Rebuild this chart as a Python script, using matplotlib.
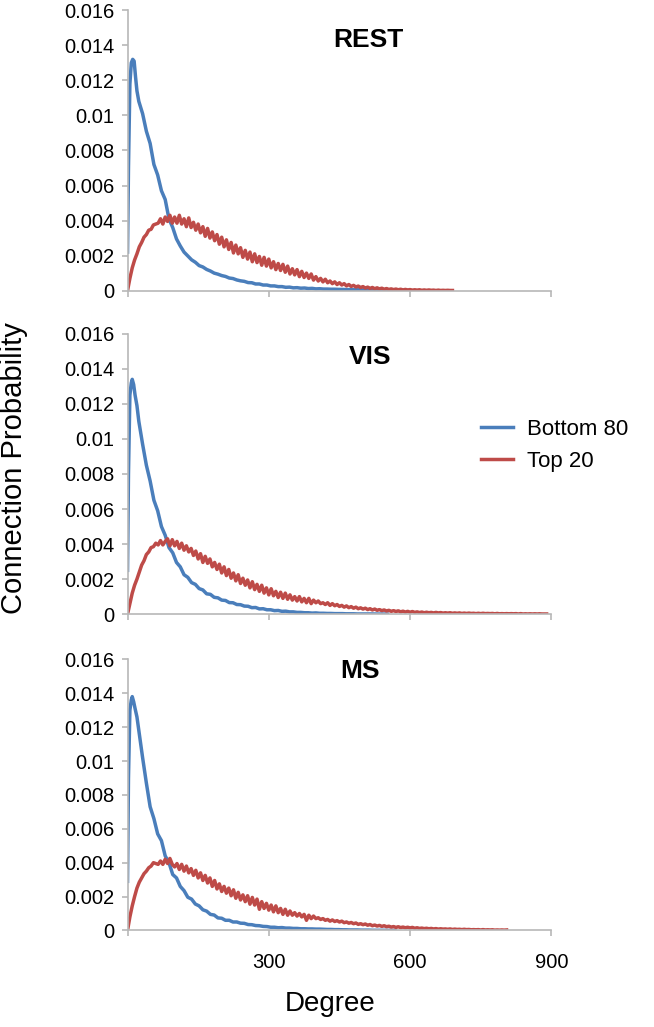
import numpy as np
import matplotlib.pyplot as plt

plt.rcParams['font.family'] = ['Liberation Sans', 'DejaVu Sans']

BLUE = '#4a7ebb'
RED = '#be4b48'
GRAY = '#b8b8b8'

# values are in units of 1e-4 (connection probability)
# Bottom 80: first degrees listed apart, then every 8 degrees from 24
REST_B80_HEAD_DEG = [0, 2, 5, 8, 11, 14, 17, 20]
REST_B80_HEAD = [22, 70, 118, 130, 132, 131, 122, 114]
REST_B80 = [108, 101, 91, 84, 72, 66, 57, 52, 41, 36, 29.5, 25.5, 22, 19.8,
            17.6, 16.2, 14.3, 13.5, 12.1, 11.2, 10.0, 9.4, 8.6, 8.1, 7.2,
            6.9, 6.1, 5.6, 5.3, 4.6, 4.5, 3.8, 3.8, 3.2, 3.2, 2.7, 2.7, 2.3,
            2.3, 1.9, 2.0, 1.6, 1.7, 1.4, 1.5, 1.2, 1.3, 1.0, 1.1, 0.9, 0.9,
            0.8, 0.8, 0.7, 0.7, 0.6, 0.6, 0.5, 0.5, 0.5, 0.4, 0.4, 0.4, 0.3,
            0.3, 0.3, 0.2, 0.2, 0.2, 0.1, 0.1, 0.1]
# Top 20: every 5 degrees from 0
REST_T20 = [0, 7, 13, 17.5, 21, 25, 27.5, 30.5, 32, 34.5,
            35, 37.5, 38, 38.5, 41, 38, 42, 39.5, 43, 38.5,
            42, 38.5, 43, 38, 41, 36.5, 41.5, 36, 39, 34.5,
            38, 33, 36.5, 31, 35.5, 30, 33.5, 28.5, 32, 26.5,
            30.5, 25, 29, 23.5, 27.5, 21.5, 26, 21, 24.5, 19,
            23, 18, 22, 16.5, 21, 16, 19.5, 14.5, 19, 14,
            18, 13, 16.5, 12, 15.5, 11.5, 15, 10.5, 14, 9.5,
            12.5, 9, 12, 8, 11, 7.5, 10, 7, 9.5, 6,
            8, 5.5, 7, 5, 6.5, 4.5, 5.5, 4, 5, 3.5,
            4.5, 3.2, 4, 2.7, 3.5, 2.4, 3, 2.1, 2.6, 1.8,
            2.3, 1.5, 2, 1.3, 1.8, 1.1, 1.6, 1, 1.4, 0.8,
            1.2, 0.7, 1, 0.6, 0.9, 0.5, 0.8, 0.4, 0.7, 0.4,
            0.6, 0.3, 0.5, 0.3, 0.5, 0.2, 0.4, 0.2, 0.4, 0.2,
            0.3, 0.1, 0.3, 0.1, 0.2, 0.1, 0.2, 0.1, 0.1]

VIS_B80_HEAD_DEG = [0, 2, 5, 8, 10, 13, 16, 20]
VIS_B80_HEAD = [25, 80, 125, 132, 134, 131, 125, 119]
VIS_B80 = [110, 97, 85, 76, 65, 59, 50, 45, 38, 35, 29.5, 27, 22.5, 21,
           18, 17, 14.6, 13.8, 11.6, 11.3, 9.6, 9.3, 8.0, 7.8, 6.6, 6.5,
           5.5, 5.4, 4.6, 4.5, 3.7, 3.8, 3.0, 3.1, 2.5, 2.5, 2.0, 2.1, 1.6,
           1.7, 1.3, 1.3, 1.0, 1.0, 0.8, 0.8, 0.6, 0.7, 0.5, 0.5, 0.4, 0.4,
           0.3, 0.3, 0.3, 0.2, 0.2, 0.2, 0.1, 0.1, 0.1, 0.1, 0.1, 0.05,
           0.05, 0.05, 0.0]
VIS_T20 = [0, 6, 12, 16.5, 20, 24, 28, 30.5, 34, 35.5,
           38, 38.5, 40.5, 39.5, 42, 39.5, 41.5, 43, 39, 42.5,
           39, 41.5, 37.5, 40.5, 36.5, 39, 35.5, 37.5, 33.5, 36,
           31.5, 34.5, 29.5, 33, 29, 31.5, 27, 29.5, 25.5, 28.5,
           23.5, 27, 22, 25.5, 20.5, 23.5, 19, 22.5, 17.5, 20.5,
           16.5, 19.5, 15, 18.5, 14, 17, 13, 16.5, 12, 15,
           11, 14.5, 10.5, 13, 9.5, 12.5, 9, 12, 8.5, 11,
           8, 10, 7.5, 10, 7, 9, 6.5, 9, 6, 8,
           6.5, 7.5, 6, 6.5, 5.5, 6.5, 5, 6, 4.8, 5.5,
           4.4, 5, 4, 4.7, 3.7, 4.3, 3.4, 4, 3.1, 3.6,
           2.9, 3.4, 2.6, 3.1, 2.4, 2.9, 2.2, 2.6, 2, 2.4,
           1.8, 2.2, 1.6, 2, 1.5, 1.9, 1.3, 1.7, 1.2, 1.6,
           1.1, 1.5, 1, 1.3, 0.9, 1.2, 0.8, 1.1, 0.8, 1,
           0.7, 1, 0.7, 0.9, 0.6, 0.8, 0.6, 0.8, 0.5, 0.7,
           0.5, 0.7, 0.4, 0.6, 0.4, 0.6, 0.4, 0.5, 0.3, 0.5,
           0.3, 0.5, 0.3, 0.4, 0.3, 0.4, 0.2, 0.4, 0.2, 0.3,
           0.2, 0.3, 0.2, 0.3, 0.2, 0.3, 0.1, 0.3, 0.1, 0.2,
           0.1, 0.2, 0.1, 0.2, 0.1, 0.2, 0.1, 0.1, 0.1]

MS_B80_HEAD_DEG = [0, 2, 5, 8, 10, 13, 16, 20]
MS_B80_HEAD = [29, 90, 130, 136, 138, 135, 131, 126]
MS_B80 = [118, 102, 87, 73, 66, 57, 53, 44, 40, 33, 31, 26, 23.5, 19.6,
          18.5, 15.6, 14.5, 12.2, 11.4, 9.5, 9.1, 7.4, 7.2, 6.0, 6.0, 5.0,
          5.0, 4.3, 4.2, 3.5, 3.4, 2.9, 2.8, 2.4, 2.3, 1.9, 1.9, 1.6, 1.7,
          1.4, 1.4, 1.2, 1.2, 1.0, 1.0, 0.9, 0.9, 0.8, 0.8, 0.7, 0.6, 0.6,
          0.5, 0.5, 0.4, 0.4, 0.3, 0.3, 0.3, 0.2, 0.2, 0.2, 0.1, 0.1, 0.1,
          0.1, 0.05, 0.05, 0.0]
MS_T20 = [0, 8, 14.5, 20, 25, 28.5, 31, 33.5, 35, 37,
          38, 40, 39.5, 39, 41, 39, 42, 39.5, 42.5, 39,
          37.5, 39.5, 36, 39, 35, 38, 34, 36.5, 32.5, 35.5,
          31, 34, 29.5, 32.5, 28, 31, 26, 29.5, 24.5, 27.5,
          23, 26, 22, 25, 20.5, 24, 19, 22.5, 18, 21,
          17, 20.5, 15.5, 19.5, 15, 18.5, 12.5, 17, 13, 16,
          12, 15, 11, 14.5, 10.5, 13, 9.5, 12.5, 9, 11.5,
          9, 10.5, 8.5, 10, 8, 9.5, 6, 9, 7, 8.5,
          7, 7.5, 6.5, 7, 6, 6.5, 5.5, 6.2, 5.3, 5.8,
          5, 5.5, 4.6, 5, 4.3, 4.7, 4, 4.4, 3.6, 4,
          3.4, 3.8, 3.1, 3.5, 2.8, 3.2, 2.6, 3, 2.4, 2.8,
          2.2, 2.5, 2, 2.3, 1.8, 2.2, 1.7, 2, 1.6, 1.9,
          1.5, 1.8, 1.3, 1.6, 1.2, 1.4, 1.1, 1.3, 1, 1.2,
          0.9, 1.1, 0.8, 1, 0.8, 0.9, 0.7, 0.9, 0.6, 0.8,
          0.6, 0.7, 0.5, 0.7, 0.5, 0.6, 0.4, 0.5, 0.4, 0.5,
          0.3, 0.5, 0.3, 0.4, 0.3, 0.4, 0.2, 0.3, 0.2, 0.3,
          0.2, 0.3]

TITLES = ['REST', 'VIS', 'MS']
LABELS = ['Bottom 80', 'Top 20']
YTICKLABELS = ['0', '0.002', '0.004', '0.006', '0.008', '0.01',
               '0.012', '0.014', '0.016']

panels = [
    (REST_B80_HEAD_DEG, REST_B80_HEAD, REST_B80, REST_T20),
    (VIS_B80_HEAD_DEG, VIS_B80_HEAD, VIS_B80, VIS_T20),
    (MS_B80_HEAD_DEG, MS_B80_HEAD, MS_B80, MS_T20),
]

fig = plt.figure(figsize=(6.54, 10.27), dpi=100)
# [left, bottom, width, height] in figure fraction
boxes = [[0.195, 0.717, 0.648, 0.273],
         [0.195, 0.402, 0.648, 0.273],
         [0.195, 0.094, 0.648, 0.264]]
title_pos = [(0.568, 0.0143), (0.573, 0.0147), (0.548, 0.0153)]

lines = []
for box, title, tpos, (hdeg, hval, b80, t20) in zip(boxes, TITLES,
                                                    title_pos, panels):
    ax = fig.add_axes(box)
    deg_b = np.concatenate([hdeg, 24 + 8 * np.arange(len(b80))])
    val_b = np.concatenate([hval, b80]) * 1e-4
    deg_t = 5 * np.arange(len(t20))
    val_t = np.array(t20) * 1e-4
    lb, = ax.plot(deg_b, val_b, color=BLUE, lw=2.5, label=LABELS[0])
    lt, = ax.plot(deg_t, val_t, color=RED, lw=2.5, label=LABELS[1])
    lines = [lb, lt]
    ax.set_xlim(0, 900)
    ax.set_ylim(0, 0.016)
    ax.set_xticks([0, 300, 600, 900])
    ax.set_yticks(np.arange(0, 0.0161, 0.002))
    ax.set_yticklabels(YTICKLABELS)
    if title == 'MS':
        ax.set_xticklabels(['', '300', '600', '900'])
    else:
        ax.set_xticklabels([])
    for s in ['top', 'right']:
        ax.spines[s].set_visible(False)
    for s in ['left', 'bottom']:
        ax.spines[s].set_color(GRAY)
        ax.spines[s].set_linewidth(1.2)
    ax.tick_params(axis='both', colors=GRAY, labelcolor='black',
                   labelsize=14.5, length=4.5, width=1.2)
    ax.tick_params(axis='y', pad=5)
    ax.tick_params(axis='x', pad=12)
    ax.text(tpos[0], tpos[1], title, transform=ax.get_yaxis_transform(),
            ha='center', va='center', fontsize=19, fontweight='bold')

fig.text(0.022, 0.544, 'Connection Probability', rotation=90, ha='center',
         va='center', fontsize=21)
fig.text(0.505, 0.022, 'Degree', ha='center', va='center', fontsize=20)

fig.legend(lines, LABELS, loc='center left', bbox_to_anchor=(0.705, 0.566),
           frameon=False, fontsize=16, handlelength=1.45,
           handletextpad=0.6, labelspacing=0.5)

fig.savefig('out.png', dpi=100)
